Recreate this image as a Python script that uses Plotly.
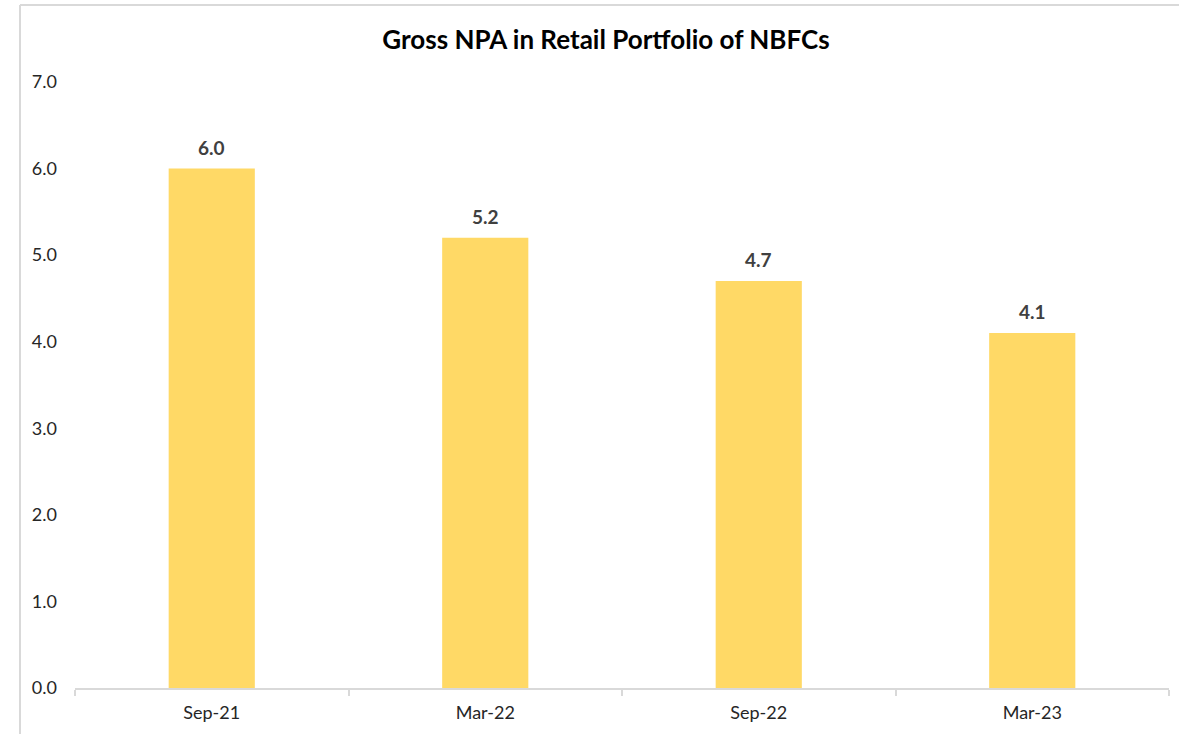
import plotly.graph_objects as go

categories = ["Sep-21", "Mar-22", "Sep-22", "Mar-23"]
gross_npa = [6.0, 5.2, 4.7, 4.1]
y_ticks = [0, 1, 2, 3, 4, 5, 6, 7]
title_text = "Gross NPA in Retail Portfolio of NBFCs"

FONT = "Lato, 'Open Sans', sans-serif"
GRID = "#d9d9d9"

fig = go.Figure()
fig.add_trace(go.Bar(
    x=categories, y=gross_npa,
    marker=dict(color="#FFD966", line=dict(width=0)),
    hoverinfo="x+y",
))

for c, v in zip(categories, gross_npa):
    fig.add_annotation(
        x=c, y=v, text=f"<b>{v:.1f}</b>", showarrow=False,
        yanchor="bottom", yshift=8,
        font=dict(family=FONT, size=19, color="#404040"),
    )

L, R, T, B = 75, 10, 82, 46
W, H = 1179, 734
pw = W - L - R
ph = H - T - B
bx = (20 - L) / pw
ty = (H - B - 5) / ph

fig.update_layout(
    width=W, height=H,
    margin=dict(l=L, r=R, t=T, b=B),
    paper_bgcolor="white", plot_bgcolor="white",
    bargap=0.685,
    showlegend=False,
    font=dict(family=FONT, size=18, color="#404040"),
    title=dict(text=f"<b>{title_text}</b>", x=606 / W, xanchor="center",
               y=1 - 40 / H, yanchor="middle",
               font=dict(family=FONT, size=26, color="#000000")),
    xaxis=dict(
        type="category", showline=True, linecolor=GRID, linewidth=1.5,
        ticks="outside", tickson="boundaries", ticklen=6, tickcolor=GRID,
        tickwidth=1.5, showgrid=False, zeroline=False,
        ticklabelstandoff=8,
        tickfont=dict(family=FONT, size=18, color="#262626"),
        fixedrange=True,
    ),
    yaxis=dict(
        range=[0, 7], tickvals=y_ticks, tickformat=".1f",
        showgrid=False, zeroline=False, showline=False, ticks="",
        ticklabelstandoff=17,
        tickfont=dict(family=FONT, size=18, color="#262626"),
        fixedrange=True,
    ),
    shapes=[
        dict(type="line", xref="paper", yref="paper", x0=bx, x1=bx, y0=-0.2, y1=ty,
             line=dict(color=GRID, width=2)),
        dict(type="line", xref="paper", yref="paper", x0=bx, x1=1.02, y0=ty, y1=ty,
             line=dict(color=GRID, width=2)),
    ],
)

fig.write_html("out.html", config={"displayModeBar": False},
               post_script="document.body.style.margin='0';document.body.style.overflow='hidden';")
